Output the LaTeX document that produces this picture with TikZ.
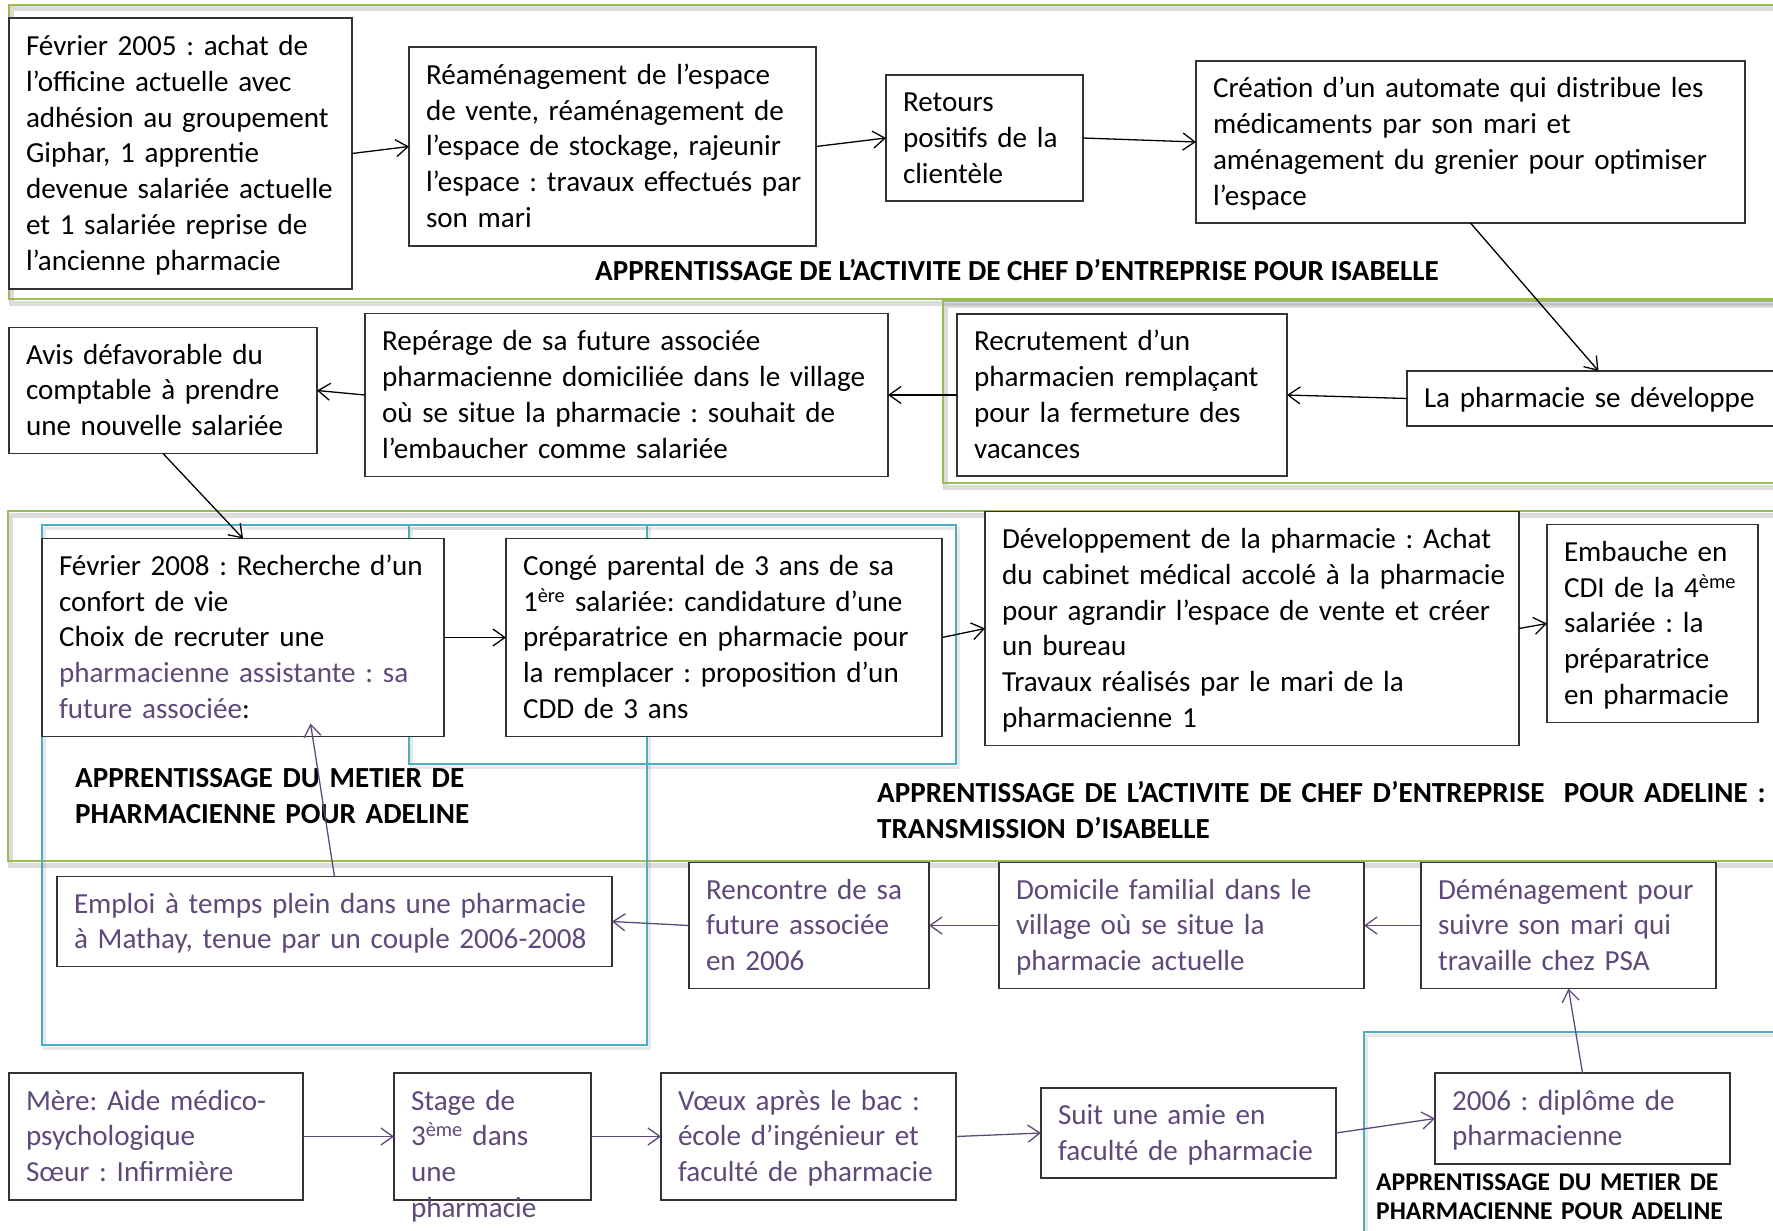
\documentclass[tikz,border=0pt]{standalone}
\usepackage{fontspec}
\setmainfont{Carlito}
\usepackage{tikz}
\usetikzlibrary{positioning,arrows.meta}
\definecolor{bandgreen}{RGB}{155,187,89}
\definecolor{zoneblue}{RGB}{75,172,198}
\definecolor{adpurple}{RGB}{95,73,122}
\newcommand{\boxfont}{\fontsize{29.1pt}{35.8pt}\selectfont}
\newcommand{\smallphasefont}{\fontsize{25.6pt}{29pt}\selectfont}
\frenchspacing

\begin{document}
\begin{tikzpicture}[
    x=1pt, y=-1pt,
    box/.style={rectangle, draw=black!80, line width=1.3pt, fill=white, align=left,
      inner xsep=5pt, inner ysep=2pt, outer sep=0pt, font=\boxfont,
      execute at begin node={\leftskip=12pt\relax\rule{0pt}{29.6pt}}, execute at end node={\strut}},
    adbox/.style={box, text=adpurple},
    wh/.style 2 args={minimum width=#1, minimum height=#2, text width=#1-10pt},
    arrow/.style={-{Straight Barb[length=12pt,width=17pt]}, line width=1.3pt},
    adarrow/.style={arrow, draw=adpurple},
    band/.style={draw=bandgreen, line width=2.5pt},
    zone/.style={draw=zoneblue, line width=2pt},
    shadowline/.style={draw=black!45, line width=5pt, opacity=0.3},
    phase/.style={font=\boxfont\bfseries, align=left, inner sep=0pt, anchor=base west}
]
    \useasboundingbox (0,0) rectangle (1773,1231);
    \clip (0,0) rectangle (1773,1231);

    % Green bands
    \foreach \xa/\ya/\xb/\yb in {9/5/1800/299, 943/301/1800/483, 8/511/1800/861}{
        \draw[shadowline] (\xa+2,\ya+4) rectangle (\xb+2,\yb+4);
        \draw[band] (\xa,\ya) rectangle (\xb,\yb);
    }

    % Blue zones
    \foreach \xa/\ya/\xb/\yb in {42/525/647/1045, 409/525/956/764, 1364/1032/1800/1250}{
        \draw[shadowline, line width=3pt, opacity=0.2] (\xa+2,\ya+3) rectangle (\xb+2,\yb+3);
        \draw[zone] (\xa,\ya) rectangle (\xb,\yb);
    }

    % Isabelle: first years
    \node[box, wh={343pt}{271pt}] (a1) at (180.5,153.5) {Février 2005 : achat de\\ l’officine actuelle avec\\ adhésion au groupement\\ Giphar, 1 apprentie\\ devenue salariée actuelle\\ et 1 salariée reprise de\\ l’ancienne pharmacie};
    \node[box, wh={407pt}{199pt}, right=57pt of a1, yshift=7pt] (a2) {Réaménagement de l’espace\\ de vente, réaménagement de\\ l’espace de stockage, rajeunir\\ l’espace : travaux effectués par\\ son mari};
    \node[box, wh={197pt}{126pt}, right=70pt of a2, yshift=8.5pt] (a3) {Retours\\ positifs de la\\ clientèle};
    \node[box, wh={549pt}{162pt}, right=113pt of a3, yshift=-4pt] (a4) {Création d’un automate qui distribue les\\ médicaments par son mari et\\ aménagement du grenier pour optimiser\\ l’espace};

    % Isabelle: growth
    \node[box, wh={383pt}{55pt}, below=148pt of a4, xshift=128pt] (b4) {La pharmacie se développe};
    \node[box, wh={330pt}{162pt}, left=120pt of b4, yshift=3.5pt] (b3) {Recrutement d’un\\ pharmacien remplaçant\\ pour la fermeture des\\ vacances};
    \node[box, wh={523pt}{163pt}, left=69pt of b3] (b2) {Repérage de sa future associée\\ pharmacienne domiciliée dans le village\\ où se situe la pharmacie : souhait de\\ l’embaucher comme salariée};
    \node[box, wh={308pt}{126pt}, left=48pt of b2, yshift=4.5pt] (b1) {Avis défavorable du\\ comptable à prendre\\ une nouvelle salariée};

    % Transmission
    \node[box, wh={402pt}{198pt}, below=85pt of b1, xshift=80pt] (c1) {Février 2008 : Recherche d’un\\ confort de vie\\ Choix de recruter une\\ \textcolor{adpurple}{pharmacienne assistante : sa}\\ \textcolor{adpurple}{future associée}:};
    \node[box, wh={436pt}{198pt}, right=62pt of c1] (c2) {Congé parental de 3 ans de sa\\ 1\textsuperscript{ère} salariée: candidature d’une\\ préparatrice en pharmacie pour\\ la remplacer : proposition d’un\\ CDD de 3 ans};
    \node[box, wh={534pt}{234pt}, right=43pt of c2, yshift=9pt] (c3) {Développement de la pharmacie : Achat\\ du cabinet médical accolé à la pharmacie\\ pour agrandir l’espace de vente et créer\\ un bureau\\ Travaux réalisés par le mari de la\\ pharmacienne 1};
    \node[box, wh={211pt}{198pt}, right=28pt of c3, yshift=5pt] (c4) {Embauche en\\ CDI de la 4\textsuperscript{ème}\\ salariée : la\\ préparatrice\\ en pharmacie};

    % Adeline: before the association
    \node[adbox, wh={555pt}{90pt}, below=140pt of c1, xshift=91.5pt] (d1) {Emploi à temps plein dans une pharmacie\\ à Mathay, tenue par un couple 2006-2008};
    \node[adbox, wh={240pt}{126pt}, right=77pt of d1, yshift=-4pt] (d2) {Rencontre de sa\\ future associée\\ en 2006};
    \node[adbox, wh={365pt}{126pt}, right=70pt of d2] (d3) {Domicile familial dans le\\ village où se situe la\\ pharmacie actuelle};
    \node[adbox, wh={295pt}{126pt}, right=57pt of d3] (d4) {Déménagement pour\\ suivre son mari qui\\ travaille chez PSA};

    % Adeline: studies
    \node[adbox, wh={294pt}{127pt}] (e1) at (156,1136.5) {Mère: Aide médico-\\ psychologique\\ Sœur : Infirmière};
    \node[adbox, wh={197pt}{127pt}, right=91pt of e1] (e2) {};
    \node[adbox, draw=none, fill=none, text width=187pt, inner ysep=7.5pt, below=0pt of e2.north] (e2text) {Stage de\\ 3\textsuperscript{ème} dans\\ une\\ pharmacie};
    \node[adbox, wh={295pt}{127pt}, right=70pt of e2] (e3) {Vœux après le bac :\\ école d’ingénieur et\\ faculté de pharmacie};
    \node[adbox, wh={295pt}{90pt}, right=85pt of e3, yshift=3.5pt] (e4) {Suit une amie en\\ faculté de pharmacie};
    \node[adbox, wh={295pt}{91pt}, right=99pt of e4, yshift=14.5pt] (e5) {2006 : diplôme de\\ pharmacienne};

    % Phase labels
    \node[phase] (isabelle) at (595,280) {APPRENTISSAGE DE L’ACTIVITE DE CHEF D’ENTREPRISE POUR ISABELLE};
    \node[phase, text width=440pt, font=\fontsize{29.1pt}{36pt}\selectfont\bfseries] (metier) at (75,787) {APPRENTISSAGE DU METIER DE\\ PHARMACIENNE POUR ADELINE};
    \node[phase, text width=930pt, font=\fontsize{29.1pt}{36pt}\selectfont\bfseries] (transmission) at (877,802) {APPRENTISSAGE DE L’ACTIVITE DE CHEF D’ENTREPRISE\ \ POUR ADELINE :\\ TRANSMISSION D’ISABELLE};
    \node[phase, text width=390pt, font=\smallphasefont\bfseries] (metierbis) at (1376,1190) {APPRENTISSAGE DU METIER DE\\ PHARMACIENNE POUR ADELINE};

    % Edges
    \draw[arrow] (a1.east) -- (a2.west);
    \draw[arrow] (a2.east) -- (a3.west);
    \draw[arrow] (a3.east) -- (a4.west);
    \draw[arrow] (a4.south) -- (b4.north);
    \draw[arrow] (b4.west) -- (b3.east);
    \draw[arrow] (b3.west) -- (b2.east);
    \draw[arrow] (b2.west) -- (b1.east);
    \draw[arrow] (b1.south) -- (c1.north);
    \draw[arrow] (c1.east) -- (c2.west);
    \draw[arrow] (c2.east) -- (c3.west);
    \draw[arrow] (c3.east) -- (c4.west);
    \draw[adarrow] (d4.west) -- (d3.east);
    \draw[adarrow] (d3.west) -- (d2.east);
    \draw[adarrow] (d2.west) -- (d1.east);
    \draw[adarrow] (d1.north) -- ([xshift=67.5pt,yshift=13pt]c1.south);
    \draw[adarrow] (e1.east) -- (e2.west);
    \draw[adarrow] (e2.east) -- (e3.west);
    \draw[adarrow] (e3.east) -- (e4.west);
    \draw[adarrow] (e4.east) -- (e5.west);
    \draw[adarrow] (e5.north) -- (d4.south);
\end{tikzpicture}
\end{document}
